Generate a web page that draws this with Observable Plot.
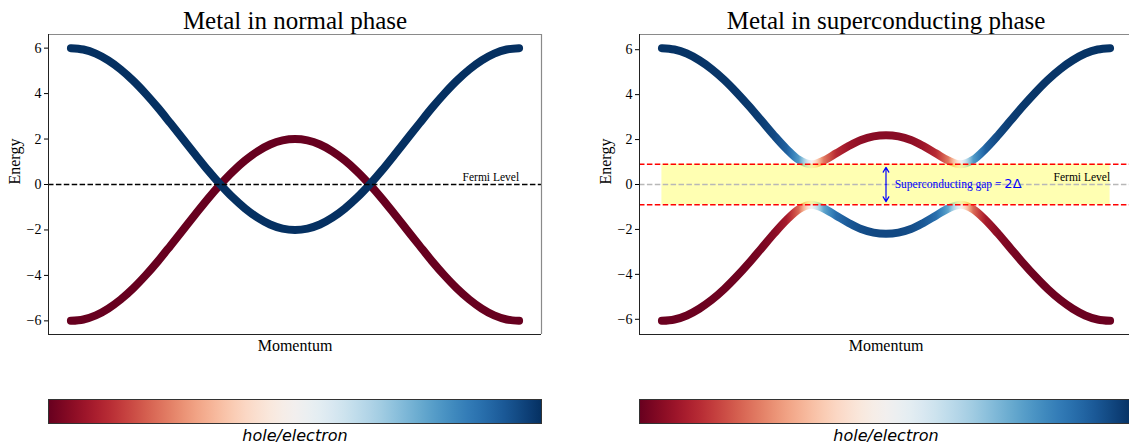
<!DOCTYPE html>
<html><head><meta charset="utf-8">
<script src="https://cdn.jsdelivr.net/npm/d3@7"></script>
<script src="https://cdn.jsdelivr.net/npm/@observablehq/plot@0.6"></script>
<style>
html,body{margin:0;padding:0;background:#fff;overflow:hidden;}
#fig{position:relative;width:1129px;height:444px;overflow:hidden;background:#fff;}
#fig > svg{position:absolute;}
</style></head><body><div id="fig"></div>
<script>
// ---- data ----
const momentum = [-180,-170,-160,-150,-140,-130,-120,-110,-100,-90,-80,-70,-60,-50,-40,-30,-20,-10,0,10,20,30,40,50,60,70,80,90,100,110,120,130,140,150,160,170,180];
const normalElectron = [6,5.94,5.76,5.46,5.06,4.57,4,3.37,2.69,2,1.31,0.63,0,-0.57,-1.06,-1.46,-1.76,-1.94,-2,-1.94,-1.76,-1.46,-1.06,-0.57,0,0.63,1.31,2,2.69,3.37,4,4.57,5.06,5.46,5.76,5.94,6];
const normalHole = [-6,-5.94,-5.76,-5.46,-5.06,-4.57,-4,-3.37,-2.69,-2,-1.31,-0.63,0,0.57,1.06,1.46,1.76,1.94,2,1.94,1.76,1.46,1.06,0.57,0,-0.63,-1.31,-2,-2.69,-3.37,-4,-4.57,-5.06,-5.46,-5.76,-5.94,-6];
const scUpper = [6.07,6.01,5.83,5.53,5.14,4.66,4.10,3.49,2.84,2.19,1.59,1.10,0.90,1.07,1.39,1.71,1.98,2.14,2.19,2.14,1.98,1.71,1.39,1.07,0.90,1.10,1.59,2.19,2.84,3.49,4.10,4.66,5.14,5.53,5.83,6.01,6.07];
const scLower = [-6.07,-6.01,-5.83,-5.53,-5.14,-4.66,-4.10,-3.49,-2.84,-2.19,-1.59,-1.10,-0.90,-1.07,-1.39,-1.71,-1.98,-2.14,-2.19,-2.14,-1.98,-1.71,-1.39,-1.07,-0.90,-1.10,-1.59,-2.19,-2.84,-3.49,-4.10,-4.66,-5.14,-5.53,-5.83,-6.01,-6.07];
const scUpperCharacter = [0.99,0.99,0.99,0.99,0.98,0.98,0.98,0.97,0.95,0.91,0.82,0.57,0,-0.53,-0.76,-0.85,-0.89,-0.91,-0.91,-0.91,-0.89,-0.85,-0.76,-0.53,0,0.57,0.82,0.91,0.95,0.97,0.98,0.98,0.98,0.99,0.99,0.99,0.99];
const scLowerCharacter = [-0.99,-0.99,-0.99,-0.99,-0.98,-0.98,-0.98,-0.97,-0.95,-0.91,-0.82,-0.57,0,0.53,0.76,0.85,0.89,0.91,0.91,0.91,0.89,0.85,0.76,0.53,0,-0.57,-0.82,-0.91,-0.95,-0.97,-0.98,-0.98,-0.98,-0.99,-0.99,-0.99,-0.99];
const electronCharacter = 1;
const holeCharacter = -1;
const gapDelta = 0.9;
const yTicks = [-6,-4,-2,0,2,4,6];
const titles = ["Metal in normal phase", "Metal in superconducting phase"];
const xLabel = "Momentum", yLabel = "Energy", fermiLabel = "Fermi Level";
const gapLabelMain = "Superconducting gap = ", gapLabelMath = "2Δ";
const colorbarLabel = "hole/electron";
const characterDomain = [-1, 1];

// ---- helpers ----
const SERIF = "'Liberation Serif','Times New Roman',serif";
const SANS = "'DejaVu Sans',sans-serif";
const fig = document.getElementById("fig");
const colorOpts = {type: "linear", scheme: "rdbu", domain: characterDomain};
const colorScale = Plot.scale({color: colorOpts});
const colorOf = v => (colorScale && colorScale.apply) ? colorScale.apply(v) : d3.interpolateRdBu((v + 1) / 2);
const fmt = d => (d < 0 ? "\u2212" : "") + Math.abs(d);
function paddedDomain(values) { const [a, b] = d3.extent(values); const p = (b - a) * 0.05; return [a - p, b + p]; }
function rows(E, c) { return momentum.map((k, i) => ({k, E: E[i], c: Array.isArray(c) ? c[i] : c})); }
function addGradient(svg, id, stops) {
  let defs = d3.select(svg).select("defs");
  if (defs.empty()) defs = d3.select(svg).insert("defs", ":first-child");
  const g = defs.append("linearGradient").attr("id", id)
    .attr("x1", 0).attr("x2", 1).attr("y1", 0).attr("y2", 0);
  stops.forEach(s => g.append("stop").attr("offset", s.offset).attr("stop-color", s.color));
}
function bandStops(character) {
  const k0 = momentum[0], k1 = momentum[momentum.length - 1];
  const stops = [];
  for (let i = 0; i < momentum.length - 1; i++) {
    for (let j = 0; j < 8; j++) {
      const t = j / 8;
      const k = momentum[i] + t * (momentum[i + 1] - momentum[i]);
      const c = character[i] + t * (character[i + 1] - character[i]);
      stops.push({offset: (k - k0) / (k1 - k0), color: colorOf(c)});
    }
  }
  stops.push({offset: 1, color: colorOf(character[character.length - 1])});
  return stops;
}
const baseStyle = {fontFamily: SERIF, fontSize: "14px", color: "black", background: "transparent", maxWidth: "none", overflow: "visible"};
const dash = "5.5,2.4";

function spines(xDomain, yDomain) {
  return [
    Plot.ruleY([yDomain[1]], {stroke: "#8a8a8a", strokeWidth: 1.2}),
    Plot.ruleX([xDomain[1]], {stroke: "#8a8a8a", strokeWidth: 1.2}),
    Plot.ruleX([xDomain[0]], {stroke: "#222", strokeWidth: 1}),
    Plot.ruleY([yDomain[0]], {stroke: "#222", strokeWidth: 1})
  ];
}
function labels(title) {
  return [
    Plot.text([title], {frameAnchor: "top", dy: -6, lineAnchor: "bottom", fontSize: 25, fontFamily: SERIF}),
    Plot.text([xLabel], {frameAnchor: "bottom", dy: 5, lineAnchor: "top", fontSize: 16, fontFamily: SERIF}),
    Plot.text([yLabel], {frameAnchor: "left", rotate: -90, dx: -28.5, lineAnchor: "bottom", fontSize: 16, fontFamily: SERIF})
  ];
}
const lineStyle = {x: "k", y: "E", strokeWidth: 8, curve: "catmull-rom", strokeLinecap: "round", strokeLinejoin: "round"};

// ---- left panel: normal phase ----
{
  const hole = rows(normalHole, holeCharacter), elec = rows(normalElectron, electronCharacter);
  const xDomain = paddedDomain(momentum), yDomain = paddedDomain([...normalHole, ...normalElectron]);
  const svg = Plot.plot({
    width: 560, height: 362, marginLeft: 48, marginRight: 19, marginTop: 34, marginBottom: 28,
    x: {domain: xDomain, axis: null},
    y: {domain: yDomain, ticks: yTicks, tickSize: 4, tickPadding: 3, label: null, tickFormat: fmt},
    color: colorOpts,
    style: baseStyle,
    marks: [
      Plot.line(hole, {...lineStyle, stroke: "c"}),
      Plot.line(elec, {...lineStyle, stroke: "c"}),
      Plot.ruleY([0], {stroke: "black", strokeWidth: 1.5, strokeDasharray: dash}),
      Plot.text([fermiLabel], {x: () => momentum[momentum.length - 1], y: () => 0.16, textAnchor: "end", lineAnchor: "bottom", fontSize: 11.5, fontFamily: SERIF}),
      ...spines(xDomain, yDomain),
      ...labels(titles[0])
    ]
  });
  svg.style.left = "0px"; svg.style.top = "0px";
  fig.appendChild(svg);
}

// ---- right panel: superconducting phase ----
{
  const up = rows(scUpper, scUpperCharacter), lo = rows(scLower, scLowerCharacter);
  const xDomain = paddedDomain(momentum), yDomain = paddedDomain([...scUpper, ...scLower]);
  const svg = Plot.plot({
    width: 541, height: 362, marginLeft: 48, marginRight: 0, marginTop: 34, marginBottom: 28,
    x: {domain: xDomain, axis: null},
    y: {domain: yDomain, ticks: yTicks, tickSize: 4, tickPadding: 3, label: null, tickFormat: fmt},
    style: baseStyle,
    marks: [
      Plot.line(lo, {...lineStyle, stroke: "url(#scLowerGrad)"}),
      Plot.line(up, {...lineStyle, stroke: "url(#scUpperGrad)"}),
      Plot.areaY(momentum, {x: d => d, y1: () => -gapDelta, y2: () => gapDelta, fill: "yellow", fillOpacity: 0.3}),
      Plot.ruleY([0], {stroke: "#b8b8b8", strokeWidth: 1.5, strokeDasharray: dash}),
      Plot.ruleY([gapDelta, -gapDelta], {stroke: "red", strokeWidth: 1.5, strokeDasharray: dash}),
      Plot.arrow([gapDelta, -gapDelta], {x1: () => 0, y1: () => 0, x2: () => 0, y2: d => d, insetEnd: 3, stroke: "blue", strokeWidth: 1.2, headLength: 7, headAngle: 60}),
      Plot.text([gapLabelMain + gapLabelMath], {x: () => 7, y: () => 0, textAnchor: "start", lineAnchor: "middle", fontSize: 11.5, fontFamily: SERIF, fill: "blue"}),
      Plot.text([fermiLabel], {x: () => momentum[momentum.length - 1], y: () => 0.16, textAnchor: "end", lineAnchor: "bottom", fontSize: 11.5, fontFamily: SERIF}),
      ...spines(xDomain, yDomain),
      ...labels(titles[1])
    ]
  });
  addGradient(svg, "scUpperGrad", bandStops(scUpperCharacter));
  addGradient(svg, "scLowerGrad", bandStops(scLowerCharacter));
  d3.select(svg).selectAll("text").filter(function () { return this.textContent === gapLabelMain + gapLabelMath; })
    .each(function () {
      const t = d3.select(this); t.text(null);
      t.append("tspan").text(gapLabelMain);
      t.append("tspan").attr("font-family", SANS).attr("font-size", 13).text(gapLabelMath);
    });
  svg.style.left = "591px"; svg.style.top = "0px";
  fig.appendChild(svg);
}

// ---- colorbars ----
function colorbar(left, width, marginRight, id) {
  const svg = Plot.plot({
    width, height: 54, marginLeft: 48, marginRight, marginTop: 9, marginBottom: 21,
    style: {...baseStyle, fontFamily: SANS},
    marks: [
      Plot.frame({fill: `url(#${id})`, stroke: "#333", strokeWidth: 1}),
      Plot.text([colorbarLabel], {frameAnchor: "bottom", dy: 17, lineAnchor: "bottom", fontFamily: SANS, fontStyle: "italic", fontSize: 16})
    ]
  });
  const n = 40;
  const stops = d3.range(n + 1).map(i => ({offset: i / n, color: colorOf(characterDomain[0] + (characterDomain[1] - characterDomain[0]) * i / n)}));
  addGradient(svg, id, stops);
  svg.style.left = left + "px"; svg.style.top = "390px";
  fig.appendChild(svg);
}
colorbar(0, 560, 19, "cbarLeft");
colorbar(591, 541, 0, "cbarRight");
</script></body></html>
